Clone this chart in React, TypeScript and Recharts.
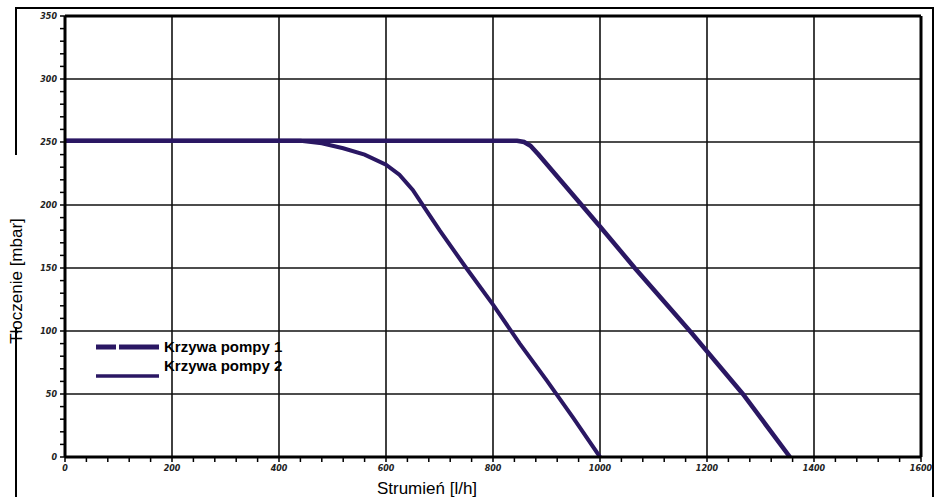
import React from 'react';
import { LineChart, Line, XAxis, YAxis, ReferenceLine } from 'recharts';

const xMajorTicks = [0, 200, 400, 600, 800, 1000, 1200, 1400, 1600];
const yMajorTicks = [0, 50, 100, 150, 200, 250, 300, 350];

const pump1Flow = [0, 845, 858, 870, 885, 1000, 1065, 1168, 1267, 1355];
const pump1Pressure = [251, 251, 250, 247, 240, 183, 150, 100, 50, 0];

const pump2Flow = [0, 440, 480, 520, 560, 600, 625, 650, 675, 700, 750, 800, 850, 900, 950, 1000];
const pump2Pressure = [251, 251, 249, 245, 240, 232, 224, 212, 196, 180, 150, 121, 90, 61, 31, 0];

const seriesNames = ['Krzywa pompy 1', 'Krzywa pompy 2'];
const xTitle = 'Strumień [l/h]';
const yTitle = 'Tłoczenie [mbar]';

const pump1 = pump1Flow.map((x, i) => ({ x, y: pump1Pressure[i] }));
const pump2 = pump2Flow.map((x, i) => ({ x, y: pump2Pressure[i] }));

const xMinorTicks: number[] = [];
for (let v = 0; v <= 1600; v += 40) xMinorTicks.push(v);
const yMinorTicks: number[] = [];
for (let v = 0; v <= 350; v += 10) yMinorTicks.push(v);

const LINE_COLOR = '#2a1763';
const tickFont = { fontSize: 8, fontWeight: 700, fontStyle: 'italic' as const, fontFamily: 'DejaVu Sans', fill: '#222' };

const XTick = (props: any) => {
  const { x, y, payload } = props;
  const major = payload.value % 200 === 0;
  return (
    <g>
      <line x1={x} x2={x} y1={y} y2={y + 5} stroke="#000" strokeWidth={1.5} />
      {major && (
        <text x={x} y={y + 14} textAnchor="middle" {...tickFont}>
          {payload.value}
        </text>
      )}
    </g>
  );
};

const YTick = (props: any) => {
  const { x, y, payload } = props;
  const major = payload.value % 50 === 0;
  return (
    <g>
      <line x1={x - 5} x2={x} y1={y} y2={y} stroke="#000" strokeWidth={1.5} />
      {major && (
        <text x={x - 8} y={y + 3} textAnchor="end" {...tickFont}>
          {payload.value}
        </text>
      )}
    </g>
  );
};

export default function App() {
  return (
    <div style={{ position: 'absolute', left: 0, top: 0, width: 943, height: 497, background: '#fff', overflow: 'hidden' }}>
      <LineChart
        width={943}
        height={497}
        margin={{ top: 16, right: 22, left: 0, bottom: 0 }}
        style={{ position: 'absolute', left: 0, top: 0 }}
      >
        <XAxis
          type="number"
          dataKey="x"
          domain={[0, 1600]}
          ticks={xMinorTicks}
          interval={0}
          height={40}
          tickSize={0}
          tickMargin={0}
          tickLine={false}
          tick={<XTick />}
          axisLine={false}
          allowDataOverflow
        />
        <YAxis
          type="number"
          dataKey="y"
          domain={[0, 350]}
          ticks={yMinorTicks}
          interval={0}
          width={65}
          tickSize={0}
          tickMargin={0}
          tickLine={false}
          tick={<YTick />}
          axisLine={false}
          allowDataOverflow
        />
        {xMajorTicks.slice(1, -1).map((v) => (
          <ReferenceLine key={'vx' + v} x={v} stroke="#111" strokeWidth={1.6} />
        ))}
        {yMajorTicks.slice(1, -1).map((v) => (
          <ReferenceLine key={'hy' + v} y={v} stroke="#111" strokeWidth={1.6} />
        ))}
        <Line
          data={pump2}
          dataKey="y"
          name={seriesNames[1]}
          type="linear"
          stroke={LINE_COLOR}
          strokeWidth={4}
          dot={false}
          isAnimationActive={false}
        />
        <Line
          data={pump1}
          dataKey="y"
          name={seriesNames[0]}
          type="linear"
          stroke={LINE_COLOR}
          strokeWidth={4.5}
          dot={false}
          isAnimationActive={false}
        />
        <ReferenceLine x={0} stroke="#000" strokeWidth={3} />
        <ReferenceLine x={1600} stroke="#000" strokeWidth={3} />
        <ReferenceLine y={0} stroke="#000" strokeWidth={3} />
        <ReferenceLine y={350} stroke="#000" strokeWidth={3} />
      </LineChart>
      <svg width={943} height={497} style={{ position: 'absolute', left: 0, top: 0, pointerEvents: 'none' }}>
        <line x1={16} x2={934} y1={8} y2={8} stroke="#000" strokeWidth={2} />
        <line x1={16} x2={16} y1={7} y2={155} stroke="#000" strokeWidth={2} />
        <line x1={16} x2={16} y1={327} y2={497} stroke="#000" strokeWidth={2} />
        <line x1={933} x2={933} y1={7} y2={497} stroke="#000" strokeWidth={2} />
        <text
          x={16}
          y={281}
          transform="rotate(-90 16 281)"
          textAnchor="middle"
          fontFamily="Liberation Sans, Arial"
          fontSize={17}
          fill="#000"
          dy={6}
        >
          {yTitle}
        </text>
        <text x={427} y={494} textAnchor="middle" fontFamily="Liberation Sans, Arial" fontSize={17} fill="#000">
          {xTitle}
        </text>
        <g transform="translate(96,338)">
          <line x1={0} x2={63} y1={9} y2={9} stroke={LINE_COLOR} strokeWidth={5} strokeDasharray="20 3 40 100" />
          <text x={68} y={14} fontFamily="Liberation Sans, Arial" fontWeight={700} fontSize={15} fill="#000">
            {seriesNames[0]}
          </text>
          <line x1={0} x2={63} y1={38} y2={38} stroke={LINE_COLOR} strokeWidth={3.5} />
          <text x={68} y={33} fontFamily="Liberation Sans, Arial" fontWeight={700} fontSize={15} fill="#000">
            {seriesNames[1]}
          </text>
        </g>
      </svg>
    </div>
  );
}
